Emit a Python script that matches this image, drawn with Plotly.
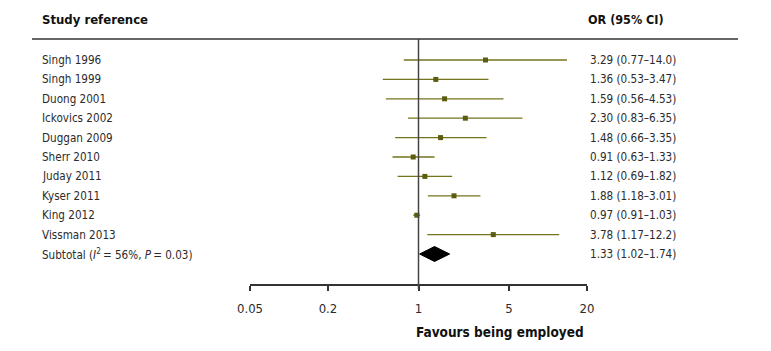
import math
import plotly.graph_objects as go

studies = ["Singh 1996", "Singh 1999", "Duong 2001", "Ickovics 2002", "Duggan 2009",
           "Sherr 2010", "Juday 2011", "Kyser 2011", "King 2012", "Vissman 2013"]
odds = [3.29, 1.36, 1.59, 2.30, 1.48, 0.91, 1.12, 1.88, 0.97, 3.78]
lower = [0.77, 0.53, 0.56, 0.83, 0.66, 0.63, 0.69, 1.18, 0.91, 1.17]
upper = [14.0, 3.47, 4.53, 6.35, 3.35, 1.33, 1.82, 3.01, 1.03, 12.2]
or_labels = ["3.29 (0.77\u201314.0)", "1.36 (0.53\u20133.47)", "1.59 (0.56\u20134.53)",
             "2.30 (0.83\u20136.35)", "1.48 (0.66\u20133.35)", "0.91 (0.63\u20131.33)",
             "1.12 (0.69\u20131.82)", "1.88 (1.18\u20133.01)", "0.97 (0.91\u20131.03)",
             "3.78 (1.17\u201312.2)"]
subtotal_label = "Subtotal (<i>I</i><sup>2</sup>\u2009= 56%, <i>P</i>\u2009= 0.03)"
subtotal_or, subtotal_lo, subtotal_hi = 1.33, 1.02, 1.74
subtotal_text = "1.33 (1.02\u20131.74)"
tick_vals = [0.05, 0.2, 1, 5, 20]
tick_text = ["0.05", "0.2", "1", "5", "20"]

FONT = "DejaVu Sans Condensed, Liberation Sans Narrow, sans-serif"
LINE_C = "#74741c"
MARK_C = "#5c5c10"
TXT_C = "#2b2b2b"
BODY = 11.6

# page offset from default body margin
OFF = 8
W, H = 771 - OFF, 351 - OFF
# geometry in page px, converted to figure px
L, R = 250 - OFF, 587 - OFF
T, B = 39 - OFF, 284 - OFF
row0, step = 60.0 - OFF, 19.4
ph = B - T
pw = R - L
y_top = (T - row0) / step
y_bot = y_top + ph / step

def px_x(px):
    return (px - OFF - L) / pw

def px_y(py):
    return (B - (py - OFF)) / ph

rows = list(range(len(studies)))
sub_row = len(studies)

fig = go.Figure()

for i in rows:
    fig.add_trace(go.Scatter(x=[lower[i], upper[i]], y=[i, i], mode="lines",
                             line=dict(color=LINE_C, width=1.3), showlegend=False,
                             hoverinfo="skip"))
fig.add_trace(go.Scatter(x=odds, y=rows, mode="markers",
                         marker=dict(symbol="square", size=5, color=MARK_C),
                         showlegend=False))

h = 7.5 / step
fig.add_trace(go.Scatter(
    x=[subtotal_lo, subtotal_or, subtotal_hi, subtotal_or, subtotal_lo],
    y=[sub_row, sub_row - h, sub_row, sub_row + h, sub_row],
    mode="lines", fill="toself", fillcolor="black",
    line=dict(color="black", width=1), showlegend=False))

ann = []
def add_text(x, y, yref, text, size, anchor="left", color=TXT_C):
    ann.append(dict(x=x, xref="paper", y=y, yref=yref, text=text,
                    xanchor=anchor, yanchor="middle", showarrow=False,
                    borderpad=0, font=dict(family=FONT, size=size, color=color)))

for i, s in enumerate(studies):
    add_text(px_x(41), i, "y", s, BODY)
    add_text(px_x(589), i, "y", or_labels[i], BODY)
add_text(px_x(41), sub_row, "y", subtotal_label, BODY)
add_text(px_x(589), sub_row, "y", subtotal_text, BODY)
add_text(px_x(41), px_y(20), "paper", "<b>Study reference</b>", 13, color="#111")
add_text(px_x(587), px_y(20), "paper", "<b>OR (95% CI)</b>", 12.5, color="#111")
add_text(px_x(500), px_y(332), "paper", "<b>Favours being employed</b>", 13.5,
         anchor="center", color="#111")

shapes = [
    dict(type="line", xref="paper", yref="paper", x0=px_x(32), x1=px_x(738),
         y0=1, y1=1, line=dict(color="#333", width=1.5)),
    dict(type="line", xref="x", yref="paper", x0=1, x1=1, y0=-5 / ph, y1=1,
         line=dict(color="#444", width=1.5)),
]

fig.update_layout(
    width=W, height=H,
    margin=dict(l=L, r=W - R, t=T, b=H - B),
    plot_bgcolor="white", paper_bgcolor="white",
    annotations=ann, shapes=shapes,
    xaxis=dict(type="log", range=[math.log10(0.05), math.log10(20)],
               tickvals=tick_vals, ticktext=tick_text, showgrid=False, zeroline=False,
               showline=True, linecolor="#333", linewidth=1.5,
               ticks="outside", ticklen=5, tickcolor="#333", tickwidth=1.5,
               ticklabelstandoff=7,
               tickfont=dict(family=FONT, size=13, color=TXT_C)),
    yaxis=dict(range=[y_bot, y_top], visible=False, showgrid=False, zeroline=False),
    font=dict(family=FONT),
)

fig.write_html("out.html")
